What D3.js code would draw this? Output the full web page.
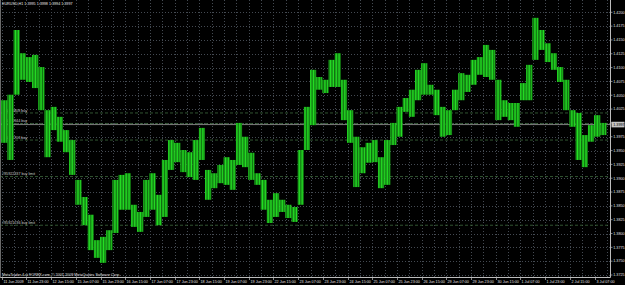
<!DOCTYPE html>
<html>
<head>
<meta charset="utf-8">
<script src="https://cdn.jsdelivr.net/npm/d3@7/dist/d3.min.js"></script>
<style>
  body { margin: 0; background: #000; }
</style>
</head>
<body>
<div id="chart"></div>
<script>
'use strict';

// header of the chart window
var symbolTitle = 'EURUSD,H1  1.3995  1.3998  1.3994  1.3997';
var footerText = 'MetaTrader 4 at FOREX.com, \u00a9 2001-2009 MetaQuotes Software Corp.';

// one label every 16 bars (H1)
var timeLabels = ['11 Jun 2009', '11 Jun 23:00', '12 Jun 15:00', '15 Jun 07:00', '15 Jun 23:00',
  '16 Jun 15:00', '17 Jun 07:00', '17 Jun 23:00', '18 Jun 15:00', '19 Jun 07:00', '19 Jun 23:00',
  '22 Jun 15:00', '23 Jun 07:00', '23 Jun 23:00', '24 Jun 15:00', '25 Jun 07:00', '25 Jun 23:00',
  '26 Jun 15:00', '29 Jun 07:00', '29 Jun 23:00', '30 Jun 15:00', '1 Jul 07:00', '1 Jul 23:00',
  '2 Jul 15:00', '3 Jul 07:00'];

var priceTicks = [1.4200, 1.4175, 1.4150, 1.4125, 1.4100, 1.4075, 1.4050, 1.4025, 1.4000, 1.3975,
  1.3950, 1.3925, 1.3900, 1.3875, 1.3850, 1.3825, 1.3800, 1.3775, 1.3750, 1.3725];

// high / low in blocks of 4 hourly bars
var barHigh = [1.4041, 1.4051, 1.4168, 1.4126, 1.4119, 1.4123, 1.4101, 1.4023, 1.4029, 1.4011,
  1.3987, 1.3969, 1.3897, 1.3866, 1.3834, 1.3788, 1.3794, 1.3806, 1.3897, 1.3906,
  1.3909, 1.3852, 1.3839, 1.3897, 1.3909, 1.3870, 1.3933, 1.3969, 1.3964, 1.3951,
  1.3947, 1.3969, 1.3991, 1.3915, 1.3909, 1.3924, 1.3938, 1.3933, 1.4000, 1.3975,
  1.3946, 1.3909, 1.3897, 1.3861, 1.3873, 1.3861, 1.3852, 1.3848, 1.3951, 1.4029,
  1.4096, 1.4083, 1.4078, 1.4114, 1.4126, 1.4078, 1.4023, 1.3975, 1.3956, 1.3964,
  1.3969, 1.3938, 1.3969, 1.4000, 1.4029, 1.4045, 1.4060, 1.4096, 1.4108, 1.4069,
  1.4060, 1.4029, 1.4023, 1.4060, 1.4090, 1.4087, 1.4114, 1.4119, 1.4141, 1.4132,
  1.4078, 1.4041, 1.4036, 1.4036, 1.4072, 1.4105, 1.4190, 1.4168, 1.4144, 1.4126,
  1.4101, 1.4078, 1.4023, 1.4018, 1.3978, 1.3996, 1.4014, 1.4000];

var barLow = [1.3964, 1.3933, 1.4051, 1.4078, 1.4074, 1.4063, 1.4023, 1.3938, 1.3987, 1.3966,
  1.3947, 1.3906, 1.3852, 1.3815, 1.3770, 1.3756, 1.3747, 1.3770, 1.3801, 1.3843,
  1.3843, 1.3812, 1.3803, 1.3830, 1.3843, 1.3815, 1.3830, 1.3915, 1.3929, 1.3911,
  1.3902, 1.3897, 1.3933, 1.3861, 1.3882, 1.3891, 1.3888, 1.3879, 1.3924, 1.3920,
  1.3897, 1.3888, 1.3843, 1.3819, 1.3830, 1.3839, 1.3828, 1.3821, 1.3852, 1.3951,
  1.3996, 1.4060, 1.4054, 1.4065, 1.4065, 1.4005, 1.3964, 1.3884, 1.3909, 1.3928,
  1.3929, 1.3882, 1.3888, 1.3960, 1.3975, 1.4020, 1.4011, 1.4041, 1.4051, 1.4051,
  1.4014, 1.3975, 1.3978, 1.4023, 1.4041, 1.4056, 1.4069, 1.4087, 1.4083, 1.4078,
  1.4005, 1.4011, 1.4005, 1.3993, 1.4041, 1.4041, 1.4114, 1.4132, 1.4110, 1.4096,
  1.4074, 1.4023, 1.3993, 1.3933, 1.3920, 1.3966, 1.3975, 1.3978];

// pending / open orders drawn on the chart
var orderPrices = [1.4018, 1.3999, 1.3969, 1.3903, 1.3815];
var orderLabels = ['#95711808 buy', '#95711944 buy', '#95711703 buy', '#95922337 buy limit', '#95921236 buy limit'];
var bidPrice = 1.3997;

function mtChart()
{
    var scope = this;
    var exports = {};

    scope.width = 625;
    scope.height = 285;
    scope.plotRight = 610.5;
    scope.plotBottom = 277.5;
    scope.font = 'Liberation Sans, Arial, sans-serif';
    scope.fontSize = 3.7;
    scope.barPx = 1.544;

    scope.createScales = function()
    {
        // 1 hourly bar = 1.544 px, label every 16 bars
        scope.xScale = d3.scaleLinear().domain([0, 384]).range([1.7, 1.7 + 384 * scope.barPx]);
        scope.yScale = d3.scaleLinear().domain([1.3725, 1.4200]).range([275, 12.3]);
    }

    scope.appendDefs = function(svg)
    {
        // hourly bar texture
        var pat = svg.append('defs').append('pattern')
            .attr('id', 'hbars')
            .attr('patternUnits', 'userSpaceOnUse')
            .attr('x', scope.xScale(0) - 0.5)
            .attr('width', scope.barPx)
            .attr('height', 10);
        pat.append('rect')
            .attr('width', scope.barPx).attr('height', 10)
            .style('fill', '#063806');
        pat.append('rect')
            .attr('width', 1.05).attr('height', 10)
            .style('fill', '#24e024');
    }

    scope.appendGrid = function(svg)
    {
        var grid = svg.append('g').attr('class', 'grid');

        grid.selectAll('line.h')
            .data(priceTicks)
            .enter()
            .append('line')
            .attr('class', 'h')
            .attr('x1', 0).attr('x2', scope.plotRight)
            .attr('y1', function(d){ return Math.round(scope.yScale(d)) + 0.5; })
            .attr('y2', function(d){ return Math.round(scope.yScale(d)) + 0.5; })
            .style('stroke', '#444a52')
            .style('stroke-dasharray', '1,2');

        var vbars = d3.range(0, 394, 8);
        grid.selectAll('line.v')
            .data(vbars)
            .enter()
            .append('line')
            .attr('class', 'v')
            .attr('y1', 0).attr('y2', scope.plotBottom)
            .attr('x1', function(d){ return Math.round(scope.xScale(d)) + 0.5; })
            .attr('x2', function(d){ return Math.round(scope.xScale(d)) + 0.5; })
            .style('stroke', '#444a52')
            .style('stroke-dasharray', '1,2');
    }

    scope.appendOrders = function(svg)
    {
        var g = svg.append('g').attr('class', 'orders');

        g.selectAll('line')
            .data(orderPrices)
            .enter()
            .append('line')
            .attr('x1', 0).attr('x2', scope.plotRight)
            .attr('y1', function(d){ return scope.yScale(d); })
            .attr('y2', function(d){ return scope.yScale(d); })
            .style('stroke', '#3e6a3e')
            .style('stroke-width', 0.8)
            .style('stroke-dasharray', '3,2');

        g.selectAll('text')
            .data(orderPrices)
            .enter()
            .append('text')
            .attr('x', 2)
            .attr('y', function(d){ return scope.yScale(d) - 1.2; })
            .style('font-family', scope.font)
            .style('font-size', scope.fontSize + 'px')
            .style('fill', '#c8c8c8')
            .text(function(d, i){ return orderLabels[i]; });

        // bid line
        g.append('line')
            .attr('x1', 0).attr('x2', scope.plotRight)
            .attr('y1', scope.yScale(bidPrice)).attr('y2', scope.yScale(bidPrice))
            .style('stroke', '#8a8a8a')
            .style('stroke-width', 0.9);
    }

    scope.appendBars = function(svg)
    {
        var g = svg.append('g').attr('class', 'bars');
        var idx = d3.range(barHigh.length);

        g.selectAll('rect')
            .data(idx)
            .enter()
            .append('rect')
            .attr('x', function(i){ return scope.xScale(4 * i) - 0.5; })
            .attr('width', scope.xScale(4) - scope.xScale(0))
            .attr('y', function(i){ return scope.yScale(barHigh[i]); })
            .attr('height', function(i){ return scope.yScale(barLow[i]) - scope.yScale(barHigh[i]); })
            .style('fill', 'url(#hbars)');
    }

    scope.appendAxes = function(svg)
    {
        var ax = svg.append('g').attr('class', 'axes');

        ax.append('line')
            .attr('x1', scope.plotRight).attr('x2', scope.plotRight)
            .attr('y1', 0).attr('y2', scope.plotBottom)
            .style('stroke', '#bdbdbd');
        ax.append('line')
            .attr('x1', 0).attr('x2', scope.plotRight)
            .attr('y1', scope.plotBottom).attr('y2', scope.plotBottom)
            .style('stroke', '#bdbdbd');
        ax.append('line')
            .attr('x1', 0.5).attr('x2', 0.5)
            .attr('y1', 0).attr('y2', scope.plotBottom)
            .style('stroke', '#6a6a6a');

        // price axis, the label under the bid box is hidden
        var by = scope.yScale(bidPrice);
        var py = ax.selectAll('g.py')
            .data(priceTicks)
            .enter()
            .append('g')
            .attr('class', 'py')
            .attr('transform', function(d){ return 'translate(0,' + scope.yScale(d) + ')'; });
        py.append('line')
            .attr('x1', scope.plotRight).attr('x2', scope.plotRight + 2)
            .style('stroke', '#bdbdbd').style('stroke-width', 0.7);
        py.filter(function(d){ return Math.abs(scope.yScale(d) - by) > 5; })
            .append('text')
            .attr('x', scope.plotRight + 2.8)
            .attr('dy', '0.35em')
            .style('font-family', scope.font)
            .style('font-size', scope.fontSize + 'px')
            .style('fill', '#e0e0e0')
            .text(function(d){ return d.toFixed(4); });

        // bid price box
        ax.append('rect')
            .attr('x', scope.plotRight + 1).attr('y', by - 2.8)
            .attr('width', 13).attr('height', 5.6)
            .style('fill', '#c4c4c4');
        ax.append('text')
            .attr('x', scope.plotRight + 2.8).attr('y', by)
            .attr('dy', '0.35em')
            .style('font-family', scope.font)
            .style('font-size', scope.fontSize + 'px')
            .style('fill', '#000')
            .text(bidPrice.toFixed(4));

        // time axis
        var tx = ax.selectAll('g.tx')
            .data(timeLabels)
            .enter()
            .append('g')
            .attr('class', 'tx')
            .attr('transform', function(d, i){ return 'translate(' + (Math.round(scope.xScale(i * 16)) + 0.5) + ',0)'; });
        tx.append('line')
            .attr('y1', scope.plotBottom).attr('y2', scope.plotBottom + 2.5)
            .style('stroke', '#bdbdbd').style('stroke-width', 0.7);
        tx.append('text')
            .attr('x', 1)
            .attr('y', 283.3)
            .style('font-family', scope.font)
            .style('font-size', scope.fontSize + 'px')
            .style('fill', '#e0e0e0')
            .text(function(d){ return d; });
    }

    scope.appendTexts = function(svg)
    {
        svg.append('text')
            .attr('x', 2).attr('y', 5)
            .style('font-family', scope.font)
            .style('font-size', scope.fontSize + 'px')
            .style('fill', '#e8e8e8')
            .text(symbolTitle);

        svg.append('text')
            .attr('x', 2).attr('y', 275.6)
            .style('font-family', scope.font)
            .style('font-size', scope.fontSize + 'px')
            .style('fill', '#e0e0e0')
            .text(footerText);
    }

    exports.run = function(div)
    {
        var svg = d3.select(div).append('svg')
            .attr('width', scope.width)
            .attr('height', scope.height)
            .style('display', 'block');

        svg.append('rect')
            .attr('width', scope.width).attr('height', scope.height)
            .style('fill', '#000');

        scope.createScales();
        scope.appendDefs(svg);
        scope.appendGrid(svg);
        scope.appendOrders(svg);
        scope.appendBars(svg);
        scope.appendAxes(svg);
        scope.appendTexts(svg);
    }

    return exports;
}

var chart = new mtChart();
chart.run('#chart');
</script>
</body>
</html>
